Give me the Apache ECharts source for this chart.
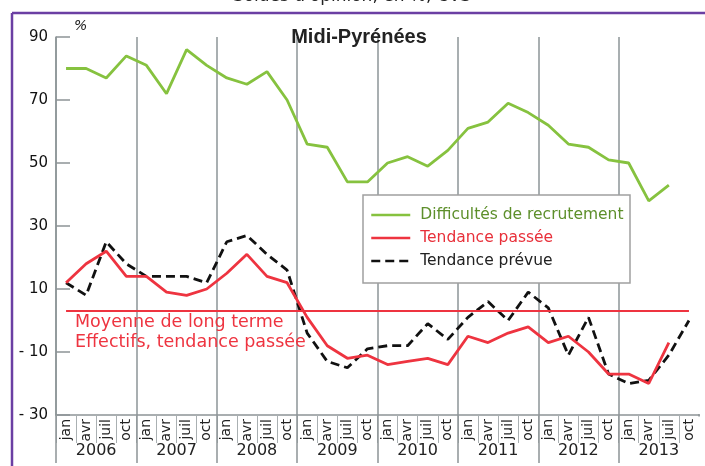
<!DOCTYPE html>
<html>
<head>
<meta charset="utf-8">
<script src="https://cdn.jsdelivr.net/npm/echarts@6/dist/echarts.min.js"></script>
<style>html,body{margin:0;padding:0;background:#fff;}#c{width:705px;height:466px;}</style>
</head>
<body>
<div id="c"></div>
<script>
var years = ['2006','2007','2008','2009','2010','2011','2012','2013'];
var months = ['jan','avr','juil','oct'];
var yTicks = [-30,-10,10,30,50,70,90];
var recrutement = [80,80,77,84, 81,72,86,81, 77,75,79,70, 56,55,44,44, 50,52,49,54, 61,63,69,66, 62,56,55,51, 50,38,43,null];
var passee = [12,18,22,14, 14,9,8,10, 15,21,14,12, 1,-8,-12,-11, -14,-13,-12,-14, -5,-7,-4,-2, -7,-5,-10,-17, -17,-20,-7,null];
var prevue = [12,8,25,18, 14,14,14,12, 25,27,21,16, -4,-13,-15,-9, -8,-8,-1,-6, 1,6,0,9, 4,-11,1,-17, -20,-19,-11,0];
var moyenne = 3;

var quarters = [];
years.forEach(function(y){ months.forEach(function(m){ quarters.push(m + ' ' + y); }); });

var GREY = '#8d9497';
var FONT = 'DejaVu Sans';
var chart = echarts.init(document.getElementById('c'));
chart.setOption({
  animation: false,
  backgroundColor: '#fff',
  grid: {left: 56, right: 6, top: 37, bottom: 51},
  xAxis: [{
    type: 'category', data: quarters, boundaryGap: true, position: 'bottom',
    axisLine: {show: true, onZero: false, lineStyle: {color: GREY, width: 1.5}},
    axisTick: {show: true, interval: 0, length: 28, lineStyle: {color: '#aab0b2', width: 1}},
    axisLabel: {interval: 0, rotate: 90, margin: 4, fontFamily: FONT, fontSize: 14, color: '#222',
      formatter: function(v){ return v.split(' ')[0]; }},
    splitLine: {show: false}
  }, {
    type: 'category', data: years, boundaryGap: true, position: 'bottom',
    axisLine: {show: false, onZero: false},
    axisTick: {show: true, interval: 0, length: 48, lineStyle: {color: GREY, width: 1.5}},
    axisLabel: {interval: 0, margin: 28, fontFamily: FONT, fontSize: 16, color: '#222'},
    splitLine: {show: true, interval: 0, lineStyle: {color: GREY, width: 1.5}}
  }],
  yAxis: {
    type: 'value', min: -30, max: 90,
    axisLine: {show: true, lineStyle: {color: GREY, width: 1.5}},
    axisTick: {show: true, inside: true, length: 14, customValues: yTicks, lineStyle: {color: GREY, width: 1.5}},
    axisLabel: {customValues: yTicks, margin: 8, fontFamily: FONT, fontSize: 15, color: '#111',
      formatter: function(v){ return v < 0 ? '- ' + Math.abs(v) : String(v); }},
    splitLine: {show: false}
  },
  legend: {
    left: 370, top: 207, orient: 'vertical', padding: 0,
    itemWidth: 39, itemHeight: 14, itemGap: 7,
    itemStyle: {opacity: 0},
    lineStyle: {width: 2.5},
    textStyle: {fontFamily: FONT, fontSize: 15.5, padding: [0,0,0,5]},
    data: [
      {name: 'Difficultés de recrutement', textStyle: {color: '#5d8f2b'}},
      {name: 'Tendance passée', textStyle: {color: '#e8303a'}},
      {name: 'Tendance prévue', textStyle: {color: '#222'}}
    ],
    z: 6
  },
  series: [{
    name: 'Difficultés de recrutement', type: 'line', data: recrutement, symbol: 'none',
    lineStyle: {color: '#86c23f', width: 2.8}, itemStyle: {color: '#86c23f'}, z: 3
  }, {
    name: 'Tendance passée', type: 'line', data: passee, symbol: 'none',
    lineStyle: {color: '#ee3440', width: 2.8}, itemStyle: {color: '#ee3440'}, z: 4,
    markLine: {
      silent: true, symbol: 'none', label: {show: false},
      lineStyle: {color: '#ee3440', width: 2, type: 'solid'},
      data: [[{coord: [0, moyenne]}, {coord: [quarters.length - 1, moyenne]}]]
    }
  }, {
    name: 'Tendance prévue', type: 'line', data: prevue, symbol: 'none',
    lineStyle: {color: '#111', width: 2.8, type: [9, 5]}, itemStyle: {color: '#111'}, z: 3
  }],
  graphic: [
    {type: 'rect', shape: {x: 697, y: 30, width: 10, height: 384}, style: {fill: '#fff'}, z: 10, silent: true},
    {type: 'rect', shape: {x: 697, y: 416.5, width: 10, height: 60}, style: {fill: '#fff'}, z: 10, silent: true},
    {type: 'line', shape: {x1: 12, y1: 13, x2: 705, y2: 13}, style: {stroke: '#6b3fa3', lineWidth: 2.5}, z: 11, silent: true},
    {type: 'line', shape: {x1: 12, y1: 13, x2: 12, y2: 466}, style: {stroke: '#6b3fa3', lineWidth: 2.5}, z: 11, silent: true},
    {type: 'text', x: 352, y: 5, style: {text: "Soldes d'opinion, en %, CVS", font: '17px "DejaVu Sans"', fill: '#222', textAlign: 'center', textVerticalAlign: 'bottom'}, z: 11},
    {type: 'text', x: 359, y: 37, style: {text: 'Midi-Pyrénées', font: 'bold 20px "Liberation Sans"', fill: '#222', textAlign: 'center', textVerticalAlign: 'middle'}, z: 11},
    {type: 'text', x: 74, y: 26, style: {text: '%', font: 'italic 14px "DejaVu Sans"', fill: '#222', textAlign: 'left', textVerticalAlign: 'middle'}, z: 11},
    {type: 'text', x: 75, y: 322, style: {text: 'Moyenne de long terme', font: '17.5px "DejaVu Sans"', fill: '#ee3440', textAlign: 'left', textVerticalAlign: 'middle'}, z: 11},
    {type: 'text', x: 75, y: 342, style: {text: 'Effectifs, tendance passée', font: '17.5px "DejaVu Sans"', fill: '#ee3440', textAlign: 'left', textVerticalAlign: 'middle'}, z: 11},
    {type: 'rect', shape: {x: 363, y: 195, width: 267, height: 88}, style: {fill: '#fff', stroke: '#a0a0a0', lineWidth: 1.5}, z: 5, silent: true}
  ]
});
</script>
</body>
</html>
